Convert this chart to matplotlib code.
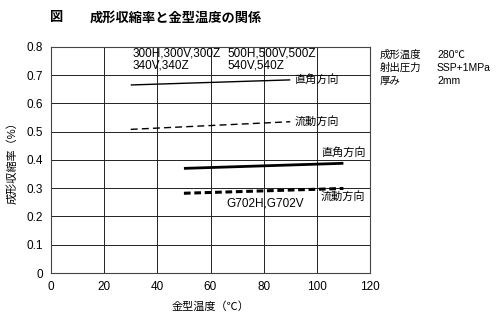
import matplotlib
matplotlib.use("Agg")
import matplotlib.pyplot as plt

plt.rcParams['font.family'] = ['Liberation Sans', 'Noto Sans CJK JP', 'DejaVu Sans']

# Data
x_group1 = [30, 90]
perp_group1 = [0.665, 0.683]
flow_group1 = [0.508, 0.535]
x_group2 = [50, 110]
perp_group2 = [0.370, 0.388]
flow_group2 = [0.282, 0.299]

xticks = [0, 20, 40, 60, 80, 100, 120]
yticks = [0, 0.1, 0.2, 0.3, 0.4, 0.5, 0.6, 0.7, 0.8]
ytick_labels = ['0', '0.1', '0.2', '0.3', '0.4', '0.5', '0.6', '0.7', '0.8']

cond_names = ['成形温度', '射出圧力', '厚み']
cond_values = ['280℃', 'SSP+1MPa', '2mm']

fig = plt.figure(figsize=(5, 3.25), dpi=100)
ax = fig.add_axes([0.102, 0.16, 0.638, 0.696])

ax.plot(x_group1, perp_group1, color='black', lw=1.0, solid_capstyle='butt')
ax.plot(x_group1, flow_group1, color='black', lw=1.0, ls=(0, (5, 3)))
ax.plot(x_group2, perp_group2, color='black', lw=2.0, solid_capstyle='butt')
ax.plot(x_group2, flow_group2, color='black', lw=2.2, ls=(0, (2.2, 1.2)))

ax.set_xlim(0, 120)
ax.set_ylim(0, 0.8)
ax.set_xticks(xticks)
ax.set_yticks(yticks)
ax.set_yticklabels(ytick_labels)
ax.grid(True, color='#222222', lw=0.7)
ax.tick_params(length=0, labelsize=8.5, pad=6)
for s in ax.spines.values():
    s.set_linewidth(0.8)
    s.set_color('#444444')

fs = 8
ax.text(91.5, perp_group1[1], '直角方向', fontsize=fs, va='center', ha='left')
ax.text(91.5, flow_group1[1], '流動方向', fontsize=fs, va='center', ha='left')
ax.text(101.5, 0.425, '直角方向', fontsize=fs, va='center', ha='left')
ax.text(101.5, 0.27, '流動方向', fontsize=fs, va='center', ha='left')
ax.text(66, 0.245, 'G702H,G702V', fontsize=8.5, va='center', ha='left')
ax.text(30.5, 0.755, '300H,300V,300Z\n340V,340Z', fontsize=8.5, va='center', ha='left', linespacing=1.1)
ax.text(66.3, 0.755, '500H,500V,500Z\n540V,540Z', fontsize=8.5, va='center', ha='left', linespacing=1.1)

ax.set_xlabel('金型温度（℃）', fontsize=8, labelpad=6)
ax.set_ylabel('成形収縮率（%）', fontsize=8, labelpad=6)

fig.text(0.1, 0.945, '図', fontsize=9.5, fontweight='bold', va='center', ha='left')
fig.text(0.18, 0.945, '成形収縮率と金型温度の関係', fontsize=9.5, fontweight='bold', va='center', ha='left')

for i, (nm, val) in enumerate(zip(cond_names, cond_values)):
    yy = 0.831 - i * 0.04
    fig.text(0.76, yy, nm, fontsize=7.5, va='center', ha='left')
    fig.text(0.874, yy, val, fontsize=7.5, va='center', ha='left')

fig.savefig('out.png', dpi=100, facecolor='white')
